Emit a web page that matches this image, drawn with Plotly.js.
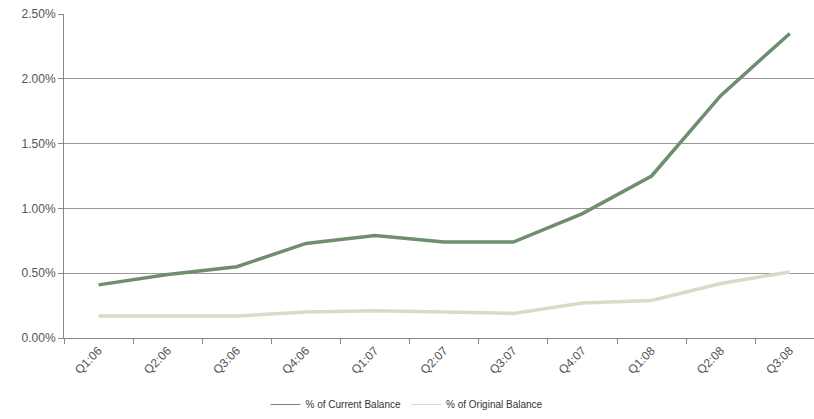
<!DOCTYPE html>
<html>
<head>
<meta charset="utf-8">
<script src="https://cdn.plot.ly/plotly-3.0.1.min.js"></script>
<style>html,body{margin:0;padding:0;background:#fff;}#chart{width:814px;height:419px;}</style>
</head>
<body>
<div id="chart"></div>
<script>
const quarters = ["Q1:06","Q2:06","Q3:06","Q4:06","Q1:07","Q2:07","Q3:07","Q4:07","Q1:08","Q2:08","Q3:08"];
const currentBalance = [0.41,0.49,0.55,0.73,0.79,0.74,0.74,0.96,1.25,1.87,2.35];
const originalBalance = [0.17,0.17,0.17,0.20,0.21,0.20,0.19,0.27,0.29,0.42,0.51];
const seriesNames = ["% of Current Balance","% of Original Balance"];
const seriesColors = ["#6f8e6f","#d9dbc9"];
const yTickVals = [0,0.5,1,1.5,2,2.5];
const yTickText = ["0.00%","0.50%","1.00%","1.50%","2.00%","2.50%"];

const traces = [
  {x: quarters, y: currentBalance, type: "scatter", mode: "lines", name: seriesNames[0],
   showlegend: false, line: {color: seriesColors[0], width: 3.5}},
  {x: quarters, y: originalBalance, type: "scatter", mode: "lines", name: seriesNames[1],
   showlegend: false, line: {color: seriesColors[1], width: 3.5}},
  // legend-only entries with thin line symbols, as in the reference
  {x: [null], y: [null], type: "scatter", mode: "lines", name: seriesNames[0],
   line: {color: seriesColors[0], width: 1}},
  {x: [null], y: [null], type: "scatter", mode: "lines", name: seriesNames[1],
   line: {color: seriesColors[1], width: 1}}
];

const layout = {
  width: 814, height: 419,
  margin: {l: 64, r: 0, t: 14, b: 81},
  paper_bgcolor: "#fff", plot_bgcolor: "#fff",
  font: {family: "Liberation Sans, Arial, sans-serif", color: "#555"},
  showlegend: true,
  legend: {orientation: "h", x: 0.5, xanchor: "center", xref: "container",
           y: 5, yref: "container", yanchor: "middle",
           font: {size: 10, color: "#333"}, tracegroupgap: 0},
  xaxis: {type: "category", range: [-0.5, 10.35], tickangle: -45,
          tickson: "boundaries", ticks: "outside", ticklen: 5, tickcolor: "#888",
          showgrid: false, showline: true, linecolor: "#888", linewidth: 1,
          tickfont: {size: 12, color: "#555"}, fixedrange: true},
  yaxis: {range: [0, 2.5], tickvals: yTickVals, ticktext: yTickText,
          ticks: "outside", ticklen: 5, tickcolor: "#888",
          showgrid: true, gridcolor: "#999", gridwidth: 1,
          showline: true, linecolor: "#888", linewidth: 1, zeroline: false,
          tickfont: {size: 12, color: "#555"}, fixedrange: true}
};

Plotly.newPlot("chart", traces, layout, {displayModeBar: false, staticPlot: true});
</script>
</body>
</html>
